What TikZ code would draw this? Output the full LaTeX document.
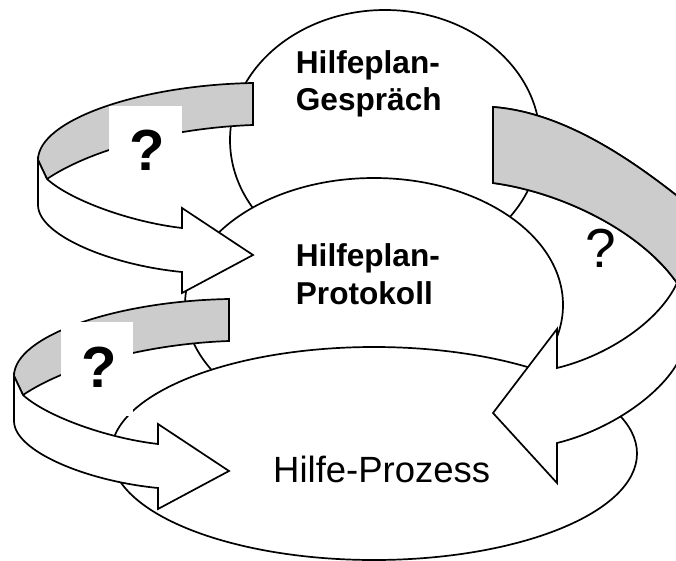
\documentclass[tikz,border=0pt]{standalone}
\usepackage{fontspec}
\setmainfont{Liberation Sans}
\definecolor{bandgray}{HTML}{CCCCCC}
\tikzset{
  ell/.style={draw=black, fill=white, line width=1.7pt},
  band/.style={draw=black, fill=bandgray, line width=1.7pt},
  frontface/.style={draw=black, fill=white, line width=1.7pt},
  edge/.style={draw=black, line width=1.7pt},
  qbox/.style={fill=white},
  lblbold/.style={inner sep=0pt, font=\fontsize{31.6}{37.2}\selectfont\bfseries},
  lblreg/.style={inner sep=0pt, font=\fontsize{36.5}{42}\selectfont},
  qbold/.style={inner sep=0pt, font=\fontsize{58}{66}\selectfont\bfseries},
  qreg/.style={inner sep=0pt, font=\fontsize{55}{62}\selectfont},
}
\newcommand\ribbonleft{%
  \path[band] (253,83) .. controls (140,85) and (38,120) .. (38,160)
     -- (47,179) .. controls (90,150) and (170,128) .. (253,125) -- cycle;
  \path[frontface] (38,160) -- (38,205) .. controls (38,235) and (110,265) .. (182,272)
     -- (182,293) -- (253,255) -- (182,208) -- (182,228)
     .. controls (130,222) and (70,200) .. (47,179) -- cycle;
}
\begin{document}
\begin{tikzpicture}[x=1pt,y=-1pt]
\useasboundingbox (0,0) rectangle (676,561);
\clip (0,0) rectangle (676,561);
% top ellipse
\path[ell] (385,140) ellipse [x radius=155pt, y radius=130pt];
% middle ellipse
\path[ell] (374,305) ellipse [x radius=189pt, y radius=127pt];
% upper left ribbon arrow
\ribbonleft
\fill[qbox] (109,106) rectangle (182,200);
% bottom ellipse
\path[ell] (374,453.5) ellipse [x radius=263pt, y radius=106.5pt];
% lower left ribbon arrow
\begin{scope}[shift={(-24,216)}]
\ribbonleft
\end{scope}
\fill[qbox] (61,322) rectangle (133,416);
% right ribbon arrow
\path[frontface] (493,183) -- (493,107) .. controls (560,112) and (625,155) .. (676,195)
   .. controls (701,215) and (689,342) .. (678,362)
   .. controls (660,395) and (610,430) .. (557,443)
   -- (557,483) -- (493,413) -- (557,329) -- (557,368)
   .. controls (610,355) and (660,320) .. (677,283)
   .. controls (640,230) and (560,192) .. (493,183) -- cycle;
\fill[bandgray] (493,107) .. controls (560,112) and (625,155) .. (676,195)
   -- (720,195) -- (720,283) -- (677,283)
   .. controls (640,230) and (560,192) .. (493,183) -- cycle;
\path[edge] (493,183) -- (493,107) .. controls (560,112) and (625,155) .. (676,195)
   .. controls (701,215) and (689,342) .. (678,362);
\path[edge] (677,283) .. controls (640,230) and (560,192) .. (493,183);
% labels
\node[lblbold, anchor=base west, align=left] (gesp) at (295.7,111) {Hilfeplan-\\Gespräch};
\node[lblbold, anchor=base west, align=left] (prot) at (295.7,304) {Hilfeplan-\\Protokoll};
\node[lblreg, anchor=base west] (proz) at (273,482) {Hilfe-Prozess};
\node[qbold, anchor=base] (q1) at (147.5,171) {?};
\node[qbold, anchor=base] (q2) at (99,387) {?};
\node[qreg, anchor=base] (q3) at (600.5,267) {?};
\end{tikzpicture}
\end{document}
